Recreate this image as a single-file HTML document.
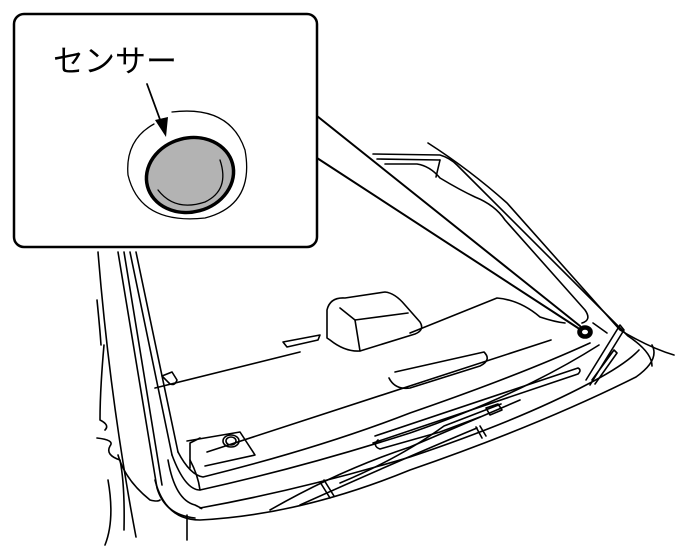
<!DOCTYPE html>
<html><head><meta charset="utf-8"><style>
html,body{margin:0;padding:0;background:#fff;}
svg{display:block}
</style></head><body>
<svg width="686" height="556" viewBox="0 0 686 556" xmlns="http://www.w3.org/2000/svg" fill="none" stroke="#000" stroke-width="1.6" stroke-linecap="round" stroke-linejoin="round">
<!-- top right body lines -->
<path d="M428 143 Q470 170 507 203 L620 330 Q650 348 674 355"/>
<path d="M373 154 L440 155 Q450 158 457 165 L628 336 Q652 352 652 366"/>
<path d="M377 159 L440 160"/>
<path d="M385 164 L417 164 Q430 166 440 178 Q460 190 475 197 Q495 205 505 220 L585 310 Q592 320 582 323"/>
<path d="M440 160 L436 177"/>
<!-- left pillar -->
<path d="M98 252 Q110 400 136 537"/>
<path d="M118 252 L157 488 Q165 515 195 518"/>
<path d="M124 252 L162 485"/>
<path d="M130 252 L172 455"/>
<path d="M136 252 L178 452"/>
<path d="M97 300 Q100 330 101 345"/>
<path d="M104 345 Q100 390 100 420 Q110 425 105 430"/>
<path d="M97 438 Q115 440 110 446 Q105 455 120 460 Q125 485 124 530"/>
<path d="M108 480 Q115 520 105 545"/>
<path d="M118 455 Q125 480 150 500 Q158 502 160 500"/>
<path d="M187 515 L187 540"/>
<!-- window frame lower -->
<path d="M155 480 Q165 520 200 520 Q300 515 410 470 Q540 425 636 377 Q660 360 652 345"/>
<path d="M168 460 Q175 500 195 505 Q205 510 200 508 Q300 490 410 457 Q520 420 588 384 Q625 365 639 350"/>
<path d="M172 455 Q185 490 200 490 Q300 468 410 433 Q520 395 599 345"/>
<path d="M178 452 Q190 475 203 477 Q320 448 410 413 Q520 375 590 343"/>
<path d="M200 490 Q198 475 190 460"/>
<path d="M593 323 L607 333"/>
<!-- shelf -->
<path d="M155 388 L300 352 M410 333 L497 298 Q520 300 540 317 Q555 322 565 323"/>
<path d="M207 452 L551 340"/>
<path d="M190 443 L190 468 M190 443 L200 438"/>
<path d="M162 376 L170 384 Q175 386 177 380 L172 372 Z"/>
<path d="M283 342 L320 335 L318 340 L287 347 Z"/>
<path d="M389 378 Q395 390 410 388 L480 366 Q492 360 484 352 L395 372"/>
<!-- spoiler -->
<path d="M327 338 L327 310 Q330 297 345 298 L385 292 Q395 293 405 305 L420 322 Q425 330 415 334 L360 351 Q345 352 330 340 Z"/>
<path d="M340 308 L355 320 L408 313"/>
<path d="M355 320 L360 351"/>
<!-- button on shelf -->
<path d="M187 441 L240 432 L255 455 L205 466"/>
<ellipse cx="231" cy="441" rx="8" ry="6"/><ellipse cx="231" cy="441" rx="5" ry="4"/>
<!-- wipers -->
<path d="M270 510 Q340 470 410 447 Q450 430 520 400"/>
<path d="M300 505 Q400 460 477 428"/>
<path d="M340 483 Q400 458 444 426 L501 404"/>
<path d="M378 440 Q372 446 380 449 L440 432 L480 417"/>
<path d="M373 443 L578 374 Q582 370 578 368 L375 436"/>
<path d="M486 408 L498 404 L502 410 L490 415 Z"/>
<path d="M320 482 L330 498 M324 480 L334 496"/>
<path d="M476 427 L482 438 M480 426 L486 436"/>
<path d="M586 380 L620 325 L624 330 L590 385 M592 380 L614 350 L617 353 L595 384"/>
<!-- sensor on car -->
<ellipse cx="585" cy="332" rx="7" ry="6" fill="#000"/>
<ellipse cx="585" cy="332" rx="3" ry="2.3" fill="#fff" stroke="none"/>
<!-- callout pointer -->
<path d="M317 116 L580 326" stroke-width="2"/>
<path d="M317 158 L578 328" stroke-width="2"/>
<!-- callout box -->
<rect x="14" y="14" width="303" height="233" rx="10" fill="#fff" stroke-width="2.5"/>
<text x="53" y="72" font-family="'Liberation Sans','Noto Sans CJK JP',sans-serif" font-size="31" fill="#000" stroke="none">センサー</text>
<path d="M147 84 L162 125" stroke-width="1.8"/>
<path d="M155 120 L166 137 L168 117 Z" fill="#000" stroke="none"/>
<path d="M172 112 Q230 105 245 150 Q255 205 205 218 Q140 225 128 175 Q125 140 154 124" stroke-width="1.3"/>
<ellipse cx="190" cy="175" rx="44" ry="37" fill="#b3b3b3" stroke-width="3.5" transform="rotate(-15 190 175)"/>
<path d="M160 190 Q150 160 175 148 Q205 138 222 160" stroke-width="1.3" fill="none" transform="rotate(180 190 175)"/>
</svg>
</body></html>
